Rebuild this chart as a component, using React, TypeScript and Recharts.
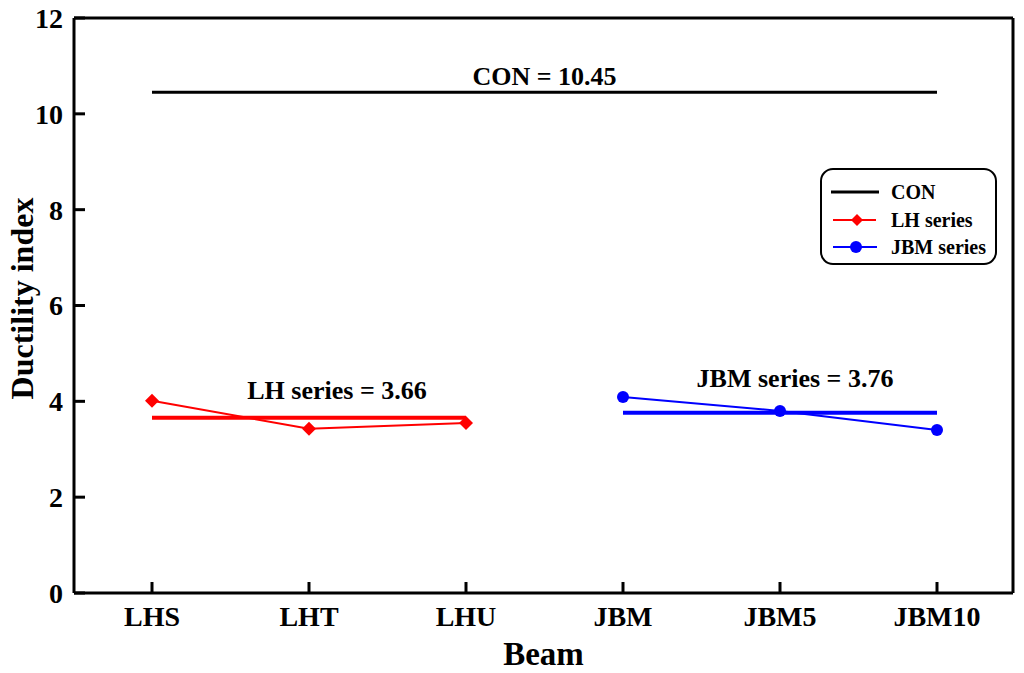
import React from 'react';
import { LineChart, Line, XAxis, YAxis, ReferenceLine, Legend } from 'recharts';

const beams = ['LHS', 'LHT', 'LHU', 'JBM', 'JBM5', 'JBM10'];
const lhSeries = [4.01, 3.43, 3.55, null, null, null];
const jbmSeries = [null, null, null, 4.09, 3.8, 3.4];
const conValue = 10.45;
const lhAverage = 3.66;
const jbmAverage = 3.76;
const yTicks = [0, 2, 4, 6, 8, 10, 12];

const data = beams.map((beam, i) => ({ beam, lh: lhSeries[i], jbm: jbmSeries[i] }));

const FONT = '"Liberation Serif", "Times New Roman", serif';
const RED = '#ff0000';
const BLUE = '#0000ff';

const tickStyle = { fontFamily: FONT, fontSize: 28, fontWeight: 700, fill: '#000' };

const Diamond = (props: any) => {
  const { cx, cy, index } = props;
  if (cx == null || cy == null) return <g key={`d${index}`} />;
  const s = 7;
  return (
    <polygon
      key={`d${index}`}
      points={`${cx},${cy - s} ${cx + s},${cy} ${cx},${cy + s} ${cx - s},${cy}`}
      fill={RED}
    />
  );
};

const Dot = (props: any) => {
  const { cx, cy, index } = props;
  if (cx == null || cy == null) return <g key={`c${index}`} />;
  return <circle key={`c${index}`} cx={cx} cy={cy} r={6} fill={BLUE} />;
};

// label centred above a reference segment, shifted sideways by dx
const segmentLabel = (text: string, dx: number, gap: number) => (props: any) => {
  const vb = props.viewBox || {};
  const x = (vb.x ?? 0) + (vb.width ?? 0) / 2 + dx;
  const y = (vb.y ?? 0) - gap;
  return (
    <text x={x} y={y} textAnchor="middle" fontFamily={FONT} fontSize={26} fontWeight={700} fill="#000">
      {text}
    </text>
  );
};

const legendText = { fontFamily: FONT, fontSize: 20, fontWeight: 700, fill: '#000' };

const LegendBox = () => (
  <svg width={178} height={98}>
    <rect x={1} y={1} width={175} height={95} rx={12} fill="#fff" stroke="#000" strokeWidth={2} />
    <line x1={11} x2={59} y1={24} y2={24} stroke="#000" strokeWidth={3} />
    <text x={71} y={24} dominantBaseline="central" {...legendText}>CON</text>
    <line x1={13} x2={56} y1={52} y2={52} stroke={RED} strokeWidth={2} />
    <polygon points="37,46 43,52 37,58 31,52" fill={RED} />
    <text x={71} y={52} dominantBaseline="central" {...legendText}>LH series</text>
    <line x1={13} x2={57} y1={79} y2={79} stroke={BLUE} strokeWidth={2} />
    <circle cx={36} cy={79} r={6} fill={BLUE} />
    <text x={71} y={79} dominantBaseline="central" {...legendText}>JBM series</text>
  </svg>
);

export default function App() {
  return (
    <div style={{ position: 'absolute', left: 0, top: 0, background: '#fff', fontFamily: FONT }}>
      <LineChart width={1024} height={673} data={data} margin={{ top: 17, right: 10, left: 0, bottom: 0 }}>
        <XAxis
          dataKey="beam"
          height={80}
          padding={{ left: 78, right: 76 }}
          tick={tickStyle}
          tickSize={-11}
          tickMargin={24}
          axisLine={{ stroke: '#000', strokeWidth: 3 }}
          tickLine={{ stroke: '#000', strokeWidth: 3 }}
          label={(props: any) => {
            const vb = props.viewBox || {};
            return (
              <text
                x={(vb.x ?? 0) + (vb.width ?? 0) / 2}
                y={(vb.y ?? 0) + 72}
                textAnchor="middle"
                fontFamily={FONT}
                fontSize={33}
                fontWeight={700}
                fill="#000"
              >
                Beam
              </text>
            );
          }}
        />
        <XAxis xAxisId="top" dataKey="beam" orientation="top" height={1} tick={false} tickLine={false}
          axisLine={{ stroke: '#000', strokeWidth: 3 }} />
        <YAxis
          width={74}
          domain={[0, 12]}
          ticks={yTicks}
          interval={0}
          tick={tickStyle}
          tickSize={-11}
          tickMargin={22}
          axisLine={{ stroke: '#000', strokeWidth: 3 }}
          tickLine={{ stroke: '#000', strokeWidth: 3 }}
          label={(props: any) => {
            const vb = props.viewBox || {};
            const x = 22;
            const y = (vb.y ?? 0) + (vb.height ?? 0) / 2 - 7;
            return (
              <text
                x={x}
                y={y}
                transform={`rotate(-90 ${x} ${y})`}
                textAnchor="middle"
                dominantBaseline="central"
                fontFamily={FONT}
                fontSize={32}
                fontWeight={700}
                fill="#000"
              >
                Ductility index
              </text>
            );
          }}
        />
        <YAxis yAxisId="right" orientation="right" width={1} domain={[0, 12]} tick={false} tickLine={false}
          axisLine={{ stroke: '#000', strokeWidth: 3 }} />
        <ReferenceLine
          segment={[{ x: beams[0], y: conValue }, { x: beams[5], y: conValue }]}
          stroke="#000"
          strokeWidth={3}
          label={segmentLabel(`CON = ${conValue}`, 0, 7)}
        />
        <ReferenceLine
          segment={[{ x: beams[0], y: lhAverage }, { x: beams[2], y: lhAverage }]}
          stroke={RED}
          strokeWidth={4}
          label={segmentLabel(`LH series = ${lhAverage}`, 28, 19)}
        />
        <ReferenceLine
          segment={[{ x: beams[3], y: jbmAverage }, { x: beams[5], y: jbmAverage }]}
          stroke={BLUE}
          strokeWidth={4}
          label={segmentLabel(`JBM series = ${jbmAverage}`, 15, 26)}
        />
        <Line dataKey="lh" stroke={RED} strokeWidth={2} dot={Diamond} activeDot={false} isAnimationActive={false} />
        <Line dataKey="jbm" stroke={BLUE} strokeWidth={2} dot={Dot} activeDot={false} isAnimationActive={false} />
        <Legend
          layout="horizontal"
          verticalAlign="middle"
          align="center"
          content={() => <LegendBox />}
          wrapperStyle={{ position: 'absolute', left: 820, top: 168, width: 178, height: 98 }}
        />
      </LineChart>
    </div>
  );
}
